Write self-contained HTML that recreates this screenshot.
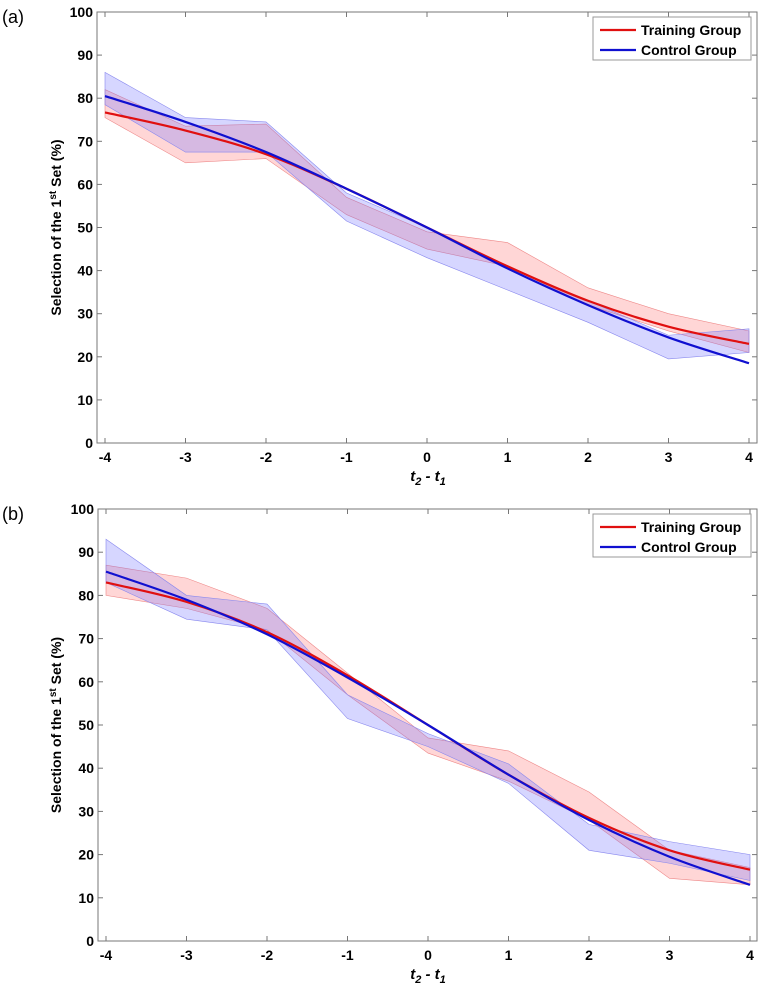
<!DOCTYPE html>
<html><head><meta charset="utf-8"><style>
body{margin:0;background:#fff}
svg text{font-family:"Liberation Sans",Arial,sans-serif}
</style></head><body>
<svg id="chart" width="764" height="987" xmlns="http://www.w3.org/2000/svg"></svg>
<script>
const xCats=[-4,-3,-2,-1,0,1,2,3,4];
const yTicks=[0,10,20,30,40,50,60,70,80,90,100];
// Panel (a)
const aTrain=[76.7,72.5,67,59,50,41,33,27,23];
const aCtrl=[80.5,74.5,67.5,59,50,40.5,32,24.5,18.5];
const aTrainLo=[75.5,65,66,53,45,41,32,26,21];
const aTrainHi=[82,73.5,74,57,49,46.5,36,30,26];
const aCtrlLo=[78.5,67.5,67.5,51.5,43,35.5,28,19.5,21];
const aCtrlHi=[86,75.5,74.5,58,50,41,33,25,26.5];
// Panel (b)
const bTrain=[83,78.5,71.5,61.5,50,38.5,28.5,21,16.5];
const bCtrl=[85.5,79,71,61,50,38.5,28,19.5,13];
const bTrainLo=[80,77,72,57,43.5,37,28,14.5,13];
const bTrainHi=[87,84,77,62,47,44,34.5,21,17];
const bCtrlLo=[83,74.5,72,51.5,45,36.5,21,18,14];
const bCtrlHi=[93,80,78,57,48,41,27,23,20];

const NS="http://www.w3.org/2000/svg";
const svg=document.getElementById('chart');
function mk(tag,attrs,parent,name,text){
  const e=document.createElementNS(NS,tag);
  for(const k in attrs)e.setAttribute(k,attrs[k]);
  
  
  if(text!==undefined)e.textContent=text;
  parent.appendChild(e);return e;
}
function smooth(pts){
  let d=`M${pts[0][0]},${pts[0][1]}`;
  for(let i=0;i<pts.length-1;i++){
    const p0=pts[Math.max(0,i-1)],p1=pts[i],p2=pts[i+1],p3=pts[Math.min(pts.length-1,i+2)];
    const c1=[p1[0]+(p2[0]-p0[0])/6,p1[1]+(p2[1]-p0[1])/6];
    const c2=[p2[0]-(p3[0]-p1[0])/6,p2[1]-(p3[1]-p1[1])/6];
    d+=` C${c1[0]},${c1[1]} ${c2[0]},${c2[1]} ${p2[0]},${p2[1]}`;
  }
  return d;
}
function panel(cfg){
  const g=mk('g',{},svg,cfg.name);
  const X=v=>cfg.x0+(v-(-4))*(cfg.x1-cfg.x0)/8;
  const Y=v=>cfg.yb+(cfg.yt-cfg.yb)*v/100;
  const L=cfg.left,R=757;
  mk('text',{x:2,y:cfg.yt+11,'font-size':18},g,'panel-label',cfg.label);
  [[cfg.tLo,cfg.tHi,'rgba(255,120,120,0.3)','#e88','training-band'],[cfg.cLo,cfg.cHi,'rgba(120,120,255,0.3)','#88e','control-band']].forEach(b=>{
    let pts=xCats.map((c,i)=>X(c)+','+Y(b[1][i]));
    pts=pts.concat(xCats.map((c,i)=>X(c)+','+Y(b[0][i])).reverse());
    mk('polygon',{points:pts.join(' '),fill:b[2],stroke:b[3],'stroke-width':0.6},g,b[4]);
  });
  mk('path',{d:smooth(xCats.map((c,i)=>[X(c),Y(cfg.t[i])])),fill:'none',stroke:'#e01010','stroke-width':2.2},g,'training-line');
  mk('path',{d:smooth(xCats.map((c,i)=>[X(c),Y(cfg.c[i])])),fill:'none',stroke:'#1010d0','stroke-width':2.2},g,'control-line');
  mk('rect',{x:L,y:cfg.yt,width:R-L,height:cfg.yb-cfg.yt,fill:'none',stroke:'#777','stroke-width':1},g,'plot-frame');
  yTicks.forEach(t=>{
    mk('line',{x1:L,x2:L+5,y1:Y(t),y2:Y(t),stroke:'#777'},g,'y-tick');
    mk('line',{x1:R,x2:R-5,y1:Y(t),y2:Y(t),stroke:'#777'},g,'y-tick-right');
    mk('text',{x:L-4,y:Y(t)+5,'font-size':14,'font-weight':'bold','text-anchor':'end'},g,'y-tick-label',t);
  });
  xCats.forEach(c=>{
    mk('line',{x1:X(c),x2:X(c),y1:cfg.yb,y2:cfg.yb-5,stroke:'#777'},g,'x-tick');
    mk('line',{x1:X(c),x2:X(c),y1:cfg.yt,y2:cfg.yt+5,stroke:'#777'},g,'x-tick-top');
    mk('text',{x:X(c),y:cfg.yb+19,'font-size':14,'font-weight':'bold','text-anchor':'middle'},g,'x-tick-label',c);
  });
  const xt=mk('text',{x:428,y:cfg.yb+38,'font-size':15,'font-weight':'bold','font-style':'italic','text-anchor':'middle'},g,'x-axis-title');
  xt.innerHTML='t<tspan font-size="11" dy="4">2</tspan><tspan dy="-4"> - t</tspan><tspan font-size="11" dy="4">1</tspan>';
  const cy=(cfg.yt+cfg.yb)/2;
  const yt=mk('text',{x:0,y:0,'font-size':14,'font-weight':'bold','text-anchor':'middle',transform:`translate(61,${cy}) rotate(-90)`},g,'y-axis-title');
  yt.innerHTML='Selection of the 1<tspan font-size="10" dy="-5">st</tspan><tspan dy="5"> Set (%)</tspan>';
  const lg=mk('g',{},g,'legend');
  mk('rect',{x:593,y:cfg.yt+5,width:158,height:43,fill:'#fff',stroke:'#999'},lg,'legend-box');
  mk('line',{x1:600,x2:636,y1:cfg.yt+18,y2:cfg.yt+18,stroke:'#e01010','stroke-width':2.2},lg,'legend-swatch-training');
  mk('text',{x:641,y:cfg.yt+23,'font-size':14,'font-weight':'bold'},lg,'legend-entry-training','Training Group');
  mk('line',{x1:600,x2:636,y1:cfg.yt+38,y2:cfg.yt+38,stroke:'#1010d0','stroke-width':2.2},lg,'legend-swatch-control');
  mk('text',{x:641,y:cfg.yt+43,'font-size':14,'font-weight':'bold'},lg,'legend-entry-control','Control Group');
}
panel({name:'panel-a',label:'(a)',left:97,x0:105,x1:749,yt:12,yb:443,t:aTrain,c:aCtrl,tLo:aTrainLo,tHi:aTrainHi,cLo:aCtrlLo,cHi:aCtrlHi});
panel({name:'panel-b',label:'(b)',left:98,x0:106,x1:750,yt:509,yb:941,t:bTrain,c:bCtrl,tLo:bTrainLo,tHi:bTrainHi,cLo:bCtrlLo,cHi:bCtrlHi});
</script>
</body></html>
